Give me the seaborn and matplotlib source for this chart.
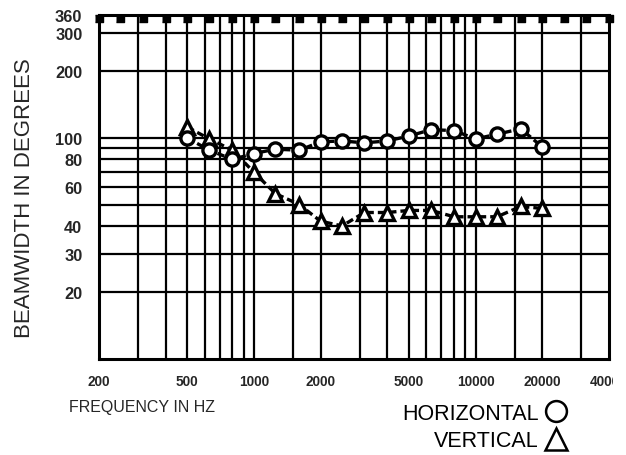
import numpy as np
import pandas as pd
import matplotlib
matplotlib.use("Agg")
import matplotlib.pyplot as plt
import seaborn as sns
from matplotlib.lines import Line2D
from matplotlib.transforms import Bbox

# ============================
#  DATA
# ============================
freq = [500, 630, 800, 1000, 1250, 1600, 2000, 2500, 3150, 4000,
        5000, 6300, 8000, 10000, 12500, 16000, 20000]
horizontal = [100, 88, 80, 85, 89, 88, 96, 97, 95, 97,
              102, 109, 108, 99, 104, 110, 91]
vertical = [112, 99, 88, 70, 56, 50, 42, 40, 46, 46,
            47, 47, 44, 44, 44, 49, 48]

# one-third octave marks along the top edge
bands = [200, 250, 315, 400, 500, 630, 800, 1000, 1250, 1600, 2000, 2500,
         3150, 4000, 5000, 6300, 8000, 10000, 12500, 16000, 20000, 25000,
         31500, 40000]

x_ticks = [200, 500, 1000, 2000, 5000, 10000, 20000, 40000]
x_grid = [300, 400, 500, 600, 700, 800, 900, 1000, 1500, 2000, 3000, 4000,
          5000, 6000, 7000, 8000, 9000, 10000, 15000, 20000, 30000]
y_ticks = [20, 30, 40, 60, 80, 100, 200, 300, 360]
y_grid = [20, 30, 40, 50, 60, 70, 80, 90, 100, 200, 300]

df = pd.DataFrame({"freq": freq, "horizontal": horizontal, "vertical": vertical})

# ============================
#  STYLE
# ============================
sns.set_style("white")
plt.rcParams["font.family"] = ["Liberation Sans", "DejaVu Sans"]
plt.rcParams["text.color"] = "black"

fig = plt.figure(figsize=(6.26, 4.56), dpi=100)
ax = fig.add_axes([99 / 626, 1 - 360 / 456, 510 / 626, 344 / 456])

ax.set_xscale("log")
ax.set_yscale("log")
ax.set_xlim(200, 40000)
ax.set_ylim(10, 360)

# grid lines
for gx in x_grid:
    ax.axvline(gx, color="black", lw=1.6, zorder=1)
for gy in y_grid:
    ax.axhline(gy, color="black", lw=1.6, zorder=1)

# band marks hanging from the top edge
tab = [(-1, 0), (1, 0), (1, -1.8), (-1, -1.8)]
ax.plot(bands, [360] * len(bands), ls="none", marker=tab, markersize=10,
        color="black", clip_on=False, zorder=4)

# ============================
#  SERIES
# ============================
sns.lineplot(data=df, x="freq", y="vertical", ax=ax, color="black",
             lw=2.4, linestyle=(0, (2.2, 1.2)), marker="^", markersize=10.5,
             markerfacecolor="white", markeredgecolor="black",
             markeredgewidth=2.4, zorder=5)
sns.lineplot(data=df, x="freq", y="horizontal", ax=ax, color="black",
             lw=2.4, linestyle=(0, (2.2, 1.2)), marker="o", markersize=9.5,
             markerfacecolor="white", markeredgecolor="black",
             markeredgewidth=2.4, zorder=6)

# ============================
#  AXES
# ============================
ax.set_xticks(x_ticks)
ax.set_xticklabels([str(t) for t in x_ticks])
ax.set_xticks([], minor=True)
ax.set_yticks(y_ticks)
ax.set_yticklabels([str(t) for t in y_ticks])
ax.set_yticks([], minor=True)
ax.tick_params(axis="both", which="both", length=0)
ax.tick_params(axis="x", pad=11, labelsize=9.8)
ax.tick_params(axis="y", pad=12, labelsize=11.8)
for lbl in ax.get_xticklabels() + ax.get_yticklabels():
    lbl.set_fontweight("bold")

for sp in ax.spines.values():
    sp.set_color("black")
    sp.set_linewidth(2.2)
    sp.set_visible(True)

ax.set_ylabel("BEAMWIDTH IN DEGREES", fontsize=16, va="center")
ax.yaxis.set_label_coords(-0.147, 0.471)
ax.set_xlabel("FREQUENCY IN HZ", fontsize=11.5, ha="left", va="center")
ax.xaxis.set_label_coords(-0.059, -0.1395)

# last frequency label is cut off at the right edge, as in the scan
last = ax.get_xticklabels()[-1]
last.set_clip_box(Bbox.from_extents(0, 0, 613, 456))
last.set_clip_on(True)

# legend: text then symbol
handles = [
    Line2D([], [], ls="none", marker="o", markersize=15, markerfacecolor="white",
           markeredgecolor="black", markeredgewidth=1.8),
    Line2D([], [], ls="none", marker="^", markersize=16, markerfacecolor="white",
           markeredgecolor="black", markeredgewidth=1.8),
]
fig.legend(handles, ["HORIZONTAL", "VERTICAL"], markerfirst=False,
           loc="upper right", bbox_to_anchor=(568 / 626, 1 - 404 / 456),
           frameon=False, fontsize=15.5, borderpad=0, borderaxespad=0,
           handletextpad=0.25, handlelength=1.1, labelspacing=0.3)

fig.savefig("out.png", dpi=100, facecolor="white")
